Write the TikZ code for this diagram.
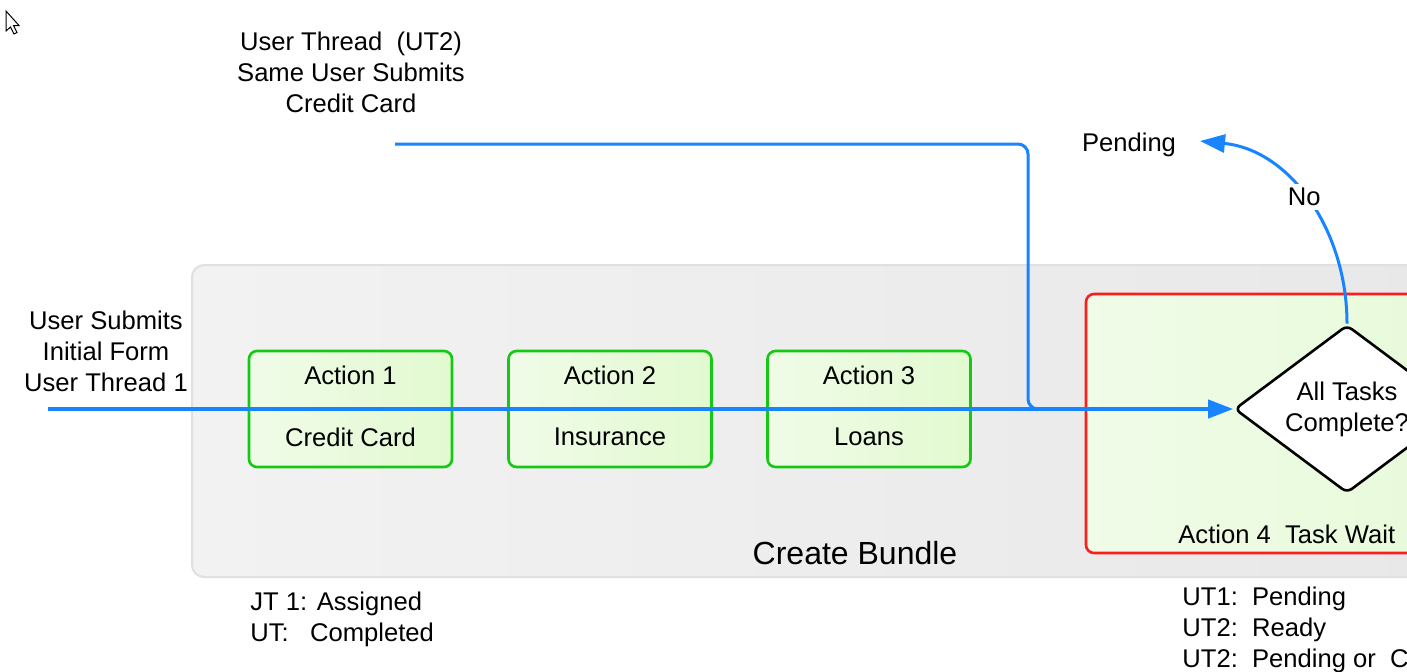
\documentclass[tikz,border=0pt]{standalone}
\usepackage{fontspec}
\setmainfont{Liberation Sans}
\usetikzlibrary{shapes.geometric,arrows.meta,calc}
\definecolor{flowblue}{RGB}{24,132,255}
\definecolor{boxgreen}{RGB}{20,200,20}
\definecolor{fillgreenA}{RGB}{240,251,232}
\definecolor{fillgreenB}{RGB}{226,250,208}
\definecolor{waitred}{RGB}{255,28,28}
\definecolor{bundlegrayA}{RGB}{242,242,242}
\definecolor{bundlegrayB}{RGB}{230,230,230}
\definecolor{bundleedge}{RGB}{224,224,224}
\begin{document}
\begin{tikzpicture}[x=0.5pt,y=-0.5pt,
  txt/.style={inner sep=0pt,font=\fontsize{12.8}{15.5}\selectfont,align=center},
  bundlebox/.style={draw=bundleedge,line width=1pt,rounded corners=6pt,left color=bundlegrayA,right color=bundlegrayB,minimum width=754pt,minimum height=156pt,inner sep=0pt},
  actionbox/.style={draw=boxgreen,line width=1.3pt,rounded corners=4pt,left color=fillgreenA,right color=fillgreenB,minimum width=101.5pt,minimum height=58pt,inner sep=0pt},
  waitbox/.style={draw=waitred,line width=1.3pt,rounded corners=4pt,left color=fillgreenA,right color=fillgreenB,minimum width=307pt,minimum height=129.5pt,inner sep=0pt},
  decision/.style={diamond,draw=black,line width=1.3pt,fill=white,rounded corners=3pt,minimum width=112.5pt,minimum height=84pt,inner sep=0pt},
  mainflow/.style={draw=flowblue,line width=2pt,-{Triangle[length=12.5pt,width=9pt]}},
  sideflow/.style={draw=flowblue,line width=1.5pt,rounded corners=5pt},
  noflow/.style={draw=flowblue,line width=1.5pt,-{Triangle[length=12.5pt,width=9pt]}}
]
\useasboundingbox (0,0) rectangle (1407,671);
\clip (0,0) rectangle (1407,671);
\fill[white] (0,0) rectangle (1407,671);

% cursor
\draw[black,fill=white,line width=0.5pt,line join=miter] (6,11) -- (6,31) -- (10.5,27) -- (14,34) -- (17,32.5) -- (13.5,25.5) -- (19,25.5) -- cycle;

% bundle
\node[bundlebox] (bundle) at (946,421) {};
\node[txt,font=\fontsize{16}{19}\selectfont] (bundlelbl) at (855,553) {Create Bundle};

% actions
\node[actionbox] (a1) at (350.5,409) {};
\node[actionbox] (a2) at (610,409) {};
\node[actionbox] (a3) at (869,409) {};
\node[txt] (a1t) at ($(a1)+(0,-34)$) {Action 1};
\node[txt] (a1b) at ($(a1)+(0,28)$) {Credit Card};
\node[txt] (a2t) at ($(a2)+(0,-34)$) {Action 2};
\node[txt] (a2b) at ($(a2)+(0,28)$) {Insurance};
\node[txt] (a3t) at ($(a3)+(0,-34)$) {Action 3};
\node[txt] (a3b) at ($(a3)+(0,28)$) {Loans};

% wait box
\node[waitbox] (wait) at (1393,423.5) {};
\node[txt,anchor=west] (waitlbl) at (1178,534) {Action 4\ \ Task Wait};
\node[decision] (d) at (1347,409) {};
\node[txt] (dlbl) at (1347,409) {All Tasks\\Complete?};

% texts
\node[txt] (ut1lbl) at (106,351) {User Submits\\Initial Form\\User Thread 1};
\node[txt] (ut2lbl) at (351,72) {User Thread\ \ (UT2)\\Same User Submits\\Credit Card};
\node[txt] (pending) at (1129,145) {Pending};
\node[txt,align=left,anchor=west] (jtstat) at (250,619) {JT 1: Assigned\\UT:\ \ \ Completed};
\node[txt,align=left,anchor=west] (utstat) at (1182,630) {UT1:\ \ Pending\\UT2:\ \ Ready\\UT2:\ \ Pending or\ \ Completed};

% connectors
\coordinate (uin) at (48,409);
\coordinate (ut2s) at (395,144);
\coordinate (bendA) at (1028,144);
\coordinate (bendB) at (1028,409);
\coordinate (merge) at (1050,409);
\coordinate (ptip) at (1200,141);
\draw[sideflow] (ut2s) -- (bendA) -- (bendB) -- (merge);
\draw[mainflow] (uin) -- (d.west);
\draw[noflow] (d.north) .. controls (1347,230) and (1290,150) .. (ptip)
  node[pos=0.52,fill=white,txt,inner sep=2pt] (nolbl) {No};
\end{tikzpicture}
\end{document}
